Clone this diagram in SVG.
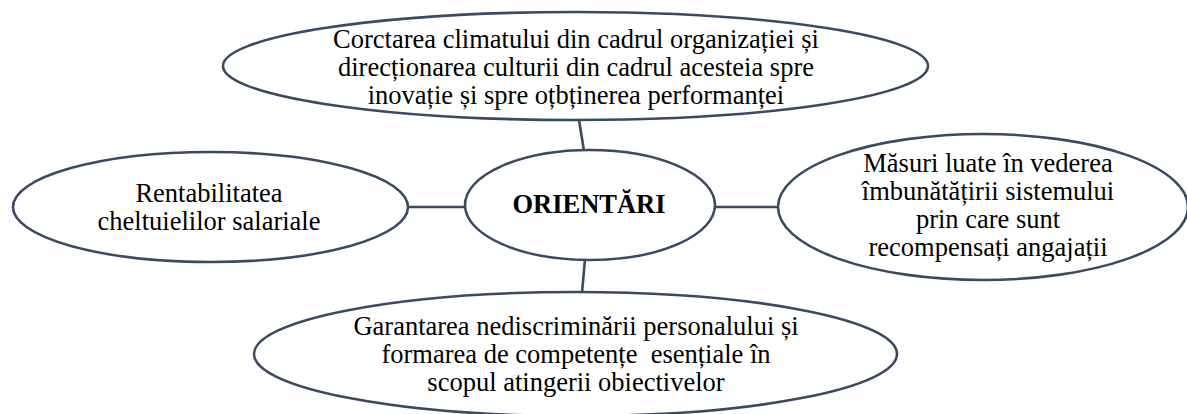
<svg xmlns="http://www.w3.org/2000/svg" width="1187" height="414" viewBox="0 0 1187 414">
<style>
.node{fill:#ffffff;stroke:#3b4a62;stroke-width:2.6}
.edge{stroke:#3b4a62;stroke-width:2.6;fill:none}
.t{font-family:"Liberation Serif","Times New Roman",serif;font-size:26.5px;fill:#000;text-anchor:middle}
.b{font-weight:bold}
</style>
<rect width="1187" height="414" fill="#ffffff"/>
<g id="connectors">
<line class="edge" x1="579" y1="120" x2="584" y2="151"/>
<line class="edge" x1="408" y1="207" x2="466" y2="207"/>
<line class="edge" x1="714" y1="207" x2="779" y2="207"/>
<line class="edge" x1="585" y1="259" x2="582" y2="293"/>
</g>
<g id="node-top">
<ellipse class="node" cx="575.5" cy="66" rx="352.5" ry="54"/>
<text class="t" x="576" y="48">Corctarea climatului din cadrul organizației și</text>
<text class="t" x="576" y="76">direcționarea culturii din cadrul acesteia spre</text>
<text class="t" x="576" y="104">inovație și spre oțbținerea performanței</text>
</g>
<g id="node-left">
<ellipse class="node" cx="210.5" cy="207" rx="197.5" ry="55"/>
<text class="t" x="209" y="202">Rentabilitatea</text>
<text class="t" x="209" y="230">cheltuielilor salariale</text>
</g>
<g id="node-center">
<ellipse class="node" cx="590" cy="205" rx="125" ry="55"/>
<text class="t b" x="589" y="213">ORIENTĂRI</text>
</g>
<g id="node-right">
<ellipse class="node" cx="983" cy="207" rx="205" ry="73"/>
<text class="t" x="988" y="172">Măsuri luate în vederea</text>
<text class="t" x="988" y="200">îmbunătățirii sistemului</text>
<text class="t" x="988" y="228">prin care sunt</text>
<text class="t" x="988" y="256">recompensați angajații</text>
</g>
<g id="node-bottom">
<ellipse class="node" cx="575.5" cy="354" rx="321.5" ry="62"/>
<text class="t" x="576" y="335">Garantarea nediscriminării personalului și</text>
<text class="t" x="576" y="363" style="white-space:pre">formarea de competențe  esențiale în</text>
<text class="t" x="576" y="391">scopul atingerii obiectivelor</text>
</g>
</svg>
